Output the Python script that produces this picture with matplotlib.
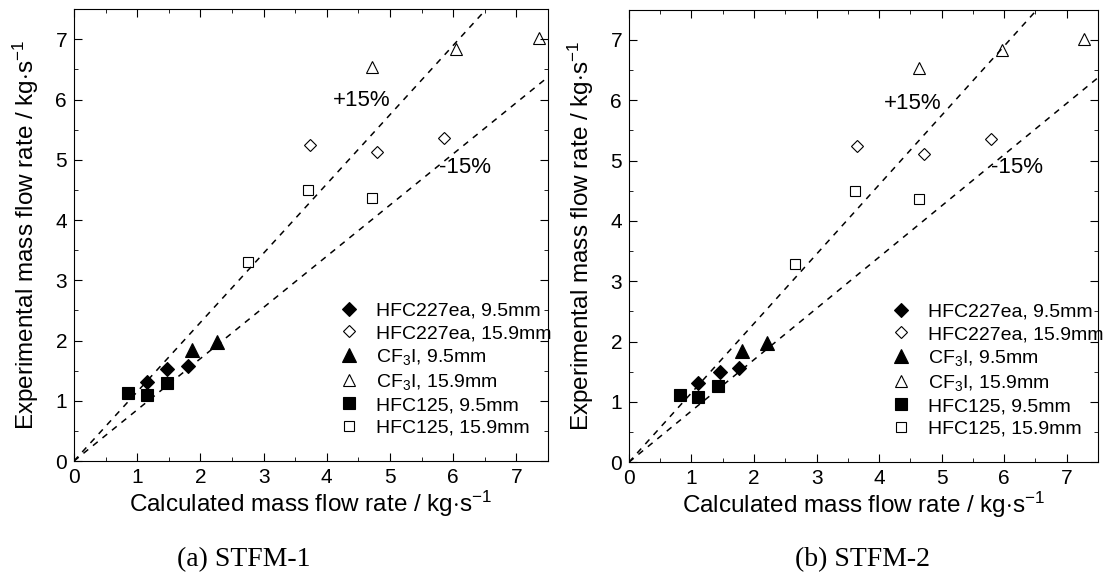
import matplotlib.pyplot as plt
import numpy as np
from matplotlib.ticker import MultipleLocator

plt.rcParams['font.family'] = 'Liberation Sans'
plt.rcParams['mathtext.fontset'] = 'custom'
plt.rcParams['mathtext.rm'] = 'Liberation Sans'
plt.rcParams['mathtext.it'] = 'Liberation Sans'

# STFM-1 : (calculated, experimental)
a_227_95_x = [1.15, 1.47, 1.80]
a_227_95_y = [1.32, 1.52, 1.57]
a_227_159_x = [3.73, 4.79, 5.86]
a_227_159_y = [5.25, 5.13, 5.37]
a_cf3i_95_x = [1.86, 2.26]
a_cf3i_95_y = [1.85, 1.98]
a_cf3i_159_x = [4.71, 6.05, 7.35]
a_cf3i_159_y = [6.54, 6.84, 7.02]
a_125_95_x = [0.85, 1.15, 1.47]
a_125_95_y = [1.13, 1.09, 1.29]
a_125_159_x = [2.76, 3.71, 4.71]
a_125_159_y = [3.30, 4.50, 4.37]

# STFM-2
b_227_95_x = [1.11, 1.45, 1.76]
b_227_95_y = [1.31, 1.50, 1.56]
b_227_159_x = [3.64, 4.71, 5.79]
b_227_159_y = [5.24, 5.11, 5.36]
b_cf3i_95_x = [1.81, 2.21]
b_cf3i_95_y = [1.84, 1.97]
b_cf3i_159_x = [4.63, 5.96, 7.28]
b_cf3i_159_y = [6.54, 6.84, 7.02]
b_125_95_x = [0.81, 1.11, 1.43]
b_125_95_y = [1.12, 1.08, 1.27]
b_125_159_x = [2.66, 3.62, 4.64]
b_125_159_y = [3.29, 4.49, 4.37]

nomes = ['HFC227ea, 9.5mm', 'HFC227ea, 15.9mm', 'CF$_3$I, 9.5mm',
         'CF$_3$I, 15.9mm', 'HFC125, 9.5mm', 'HFC125, 15.9mm']

fig = plt.figure(figsize=(11.04, 5.77), dpi=100)
ax1 = fig.add_axes([0.067, 0.201, 0.4294, 0.783])
ax2 = fig.add_axes([0.5697, 0.199, 0.4249, 0.784])


def desenhar(ax, dados):
    estilos = [('D', 'k', 7.5), ('D', 'none', 6.2), ('^', 'k', 10),
               ('^', 'none', 9), ('s', 'k', 8), ('s', 'none', 7)]
    for (x, y), (m, fc, ms), nome in zip(dados, estilos, nomes):
        ax.plot(x, y, m, mfc=fc, mec='k', ms=ms, mew=0.8, ls='none', label=nome)

    xs = np.array([0, 7.5])
    ax.plot(xs, 1.15 * xs, 'k--', lw=1.1, dashes=(4, 4))
    ax.plot(xs, 0.85 * xs, 'k--', lw=1.1, dashes=(4, 4))

    ax.set_xlim(0, 7.5)
    ax.set_ylim(0, 7.5)
    ax.xaxis.set_major_locator(MultipleLocator(1))
    ax.yaxis.set_major_locator(MultipleLocator(1))
    ax.xaxis.set_minor_locator(MultipleLocator(0.5))
    ax.yaxis.set_minor_locator(MultipleLocator(0.5))
    ax.tick_params(which='both', direction='in', top=True, right=True, labelsize=15, pad=5)
    ax.tick_params(which='major', length=6)
    ax.tick_params(which='minor', length=3)
    ax.set_xlabel('Calculated mass flow rate / kg$\\cdot$s$^{-1}$', fontsize=17.5, labelpad=1)
    ax.set_ylabel('Experimental mass flow rate / kg$\\cdot$s$^{-1}$', fontsize=17.5, labelpad=10)
    ax.legend(loc='upper left', bbox_to_anchor=(0.555, 0.352), frameon=False,
              fontsize=14, handletextpad=0.8, labelspacing=0.25, borderpad=0,
              handlelength=1.2, borderaxespad=0)


desenhar(ax1, [(a_227_95_x, a_227_95_y), (a_227_159_x, a_227_159_y),
               (a_cf3i_95_x, a_cf3i_95_y), (a_cf3i_159_x, a_cf3i_159_y),
               (a_125_95_x, a_125_95_y), (a_125_159_x, a_125_159_y)])
desenhar(ax2, [(b_227_95_x, b_227_95_y), (b_227_159_x, b_227_159_y),
               (b_cf3i_95_x, b_cf3i_95_y), (b_cf3i_159_x, b_cf3i_159_y),
               (b_125_95_x, b_125_95_y), (b_125_159_x, b_125_159_y)])

ax1.text(4.09, 5.98, '+15%', fontsize=16, va='center')
ax1.text(5.78, 4.87, '-15%', fontsize=16, va='center')
ax2.text(4.08, 5.94, '+15%', fontsize=16, va='center')
ax2.text(5.79, 4.88, '-15%', fontsize=16, va='center')

fig.text(0.221, 0.03, '(a) STFM-1', family='Liberation Serif', fontsize=20, ha='center', va='center')
fig.text(0.781, 0.03, '(b) STFM-2', family='Liberation Serif', fontsize=20, ha='center', va='center')

fig.savefig('out.png', dpi=100)
